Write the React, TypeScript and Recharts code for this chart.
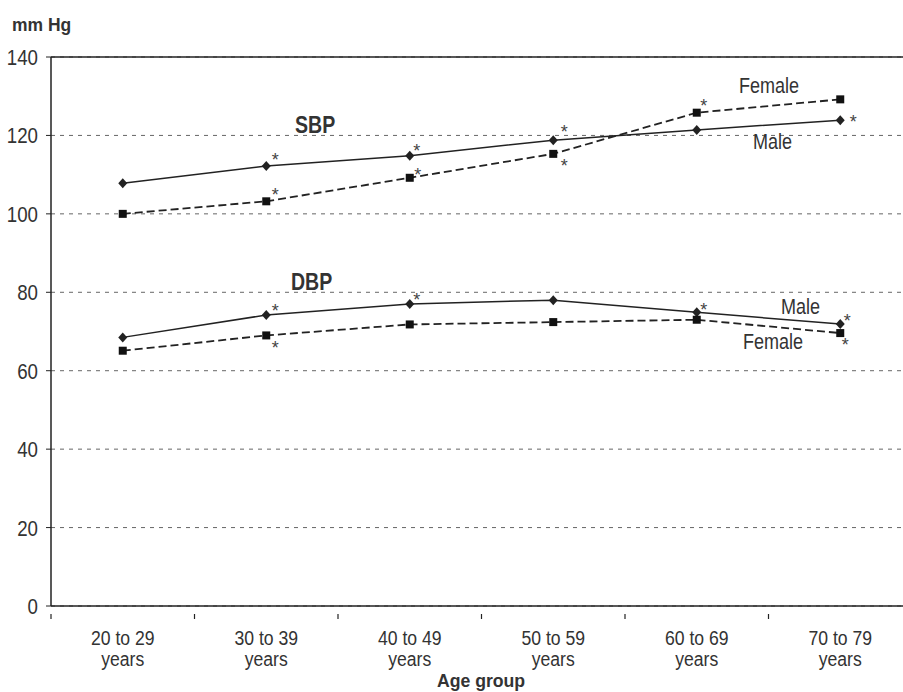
import React from 'react';
import { LineChart, Line, XAxis, YAxis, CartesianGrid, ReferenceLine } from 'recharts';

// age groups, each drawn as two lines on the axis
const ageGroups = ['20 to 29|years', '30 to 39|years', '40 to 49|years', '50 to 59|years', '60 to 69|years', '70 to 79|years'];

// mm Hg
const sbpMale = [107.8, 112.2, 114.8, 118.8, 121.4, 123.9];
const sbpFemale = [100.0, 103.2, 109.2, 115.3, 125.8, 129.2];
const dbpMale = [68.5, 74.2, 77.0, 78.0, 74.9, 71.9];
const dbpFemale = [65.1, 69.0, 71.8, 72.4, 73.0, 69.6];

// significance asterisks
const sbpMaleStar = [false, true, true, true, false, true];
const sbpFemaleStar = [false, true, true, true, true, false];
const dbpMaleStar = [false, true, true, false, true, true];
const dbpFemaleStar = [false, true, false, false, false, true];

const yTicks = [0, 20, 40, 60, 80, 100, 120, 140];

const rows = ageGroups.map((g, i) => ({
  group: g,
  sbpM: sbpMale[i],
  sbpF: sbpFemale[i],
  dbpM: dbpMale[i],
  dbpF: dbpFemale[i],
}));

const FONT = '"Liberation Sans", Arial, sans-serif';
const INK = '#222';
const TXT = '#333';
const HALF_STEP = 71.75;
const NARROW = 0.82;

// where each asterisk sits relative to its marker
const starPos: Record<string, [number, number][]> = {
  sbpM: [[0, 0], [9, -9], [7, -8], [11, -11], [0, 0], [13, -1]],
  sbpF: [[0, 0], [9, -9], [8, -6], [11, 9], [7, -10], [0, 0]],
  dbpM: [[0, 0], [9, -7], [7, -7], [0, 0], [7, -5], [7, -6]],
  dbpF: [[0, 0], [9, 10], [0, 0], [0, 0], [0, 0], [5, 9]],
};

// condensed look: squeeze the text horizontally around its anchor
const NText = ({ x, y, size = 22, sx = NARROW, bold = false, anchor = 'start', lines, lh = 20 }: any) => (
  <text
    transform={`translate(${x},${y}) scale(${sx},1)`}
    fontSize={size}
    fontWeight={bold ? 'bold' : 'normal'}
    fill={TXT}
    fontFamily={FONT}
    textAnchor={anchor}
  >
    {lines.map((l: string, i: number) => (
      <tspan key={i} x={0} y={i * lh}>{l}</tspan>
    ))}
  </text>
);

const Diamond = (props: any) => {
  const { cx, cy, index } = props;
  if (cx == null || cy == null) return <g key={`dm-${index}`} />;
  return (
    <polygon
      key={`dm-${index}`}
      points={`${cx},${cy - 5} ${cx + 4.5},${cy} ${cx},${cy + 5} ${cx - 4.5},${cy}`}
      fill={INK}
    />
  );
};

const Square = (props: any) => {
  const { cx, cy, index } = props;
  if (cx == null || cy == null) return <g key={`sq-${index}`} />;
  return <rect key={`sq-${index}`} x={cx - 4} y={cy - 4} width={8} height={8} fill="#111" />;
};

const starLabel = (key: string, flags: boolean[]) => (props: any) => {
  const { x, y, index } = props;
  if (!flags[index] || x == null || y == null) return null;
  const [dx, dy] = starPos[key][index];
  return (
    <text key={`st-${key}-${index}`} x={x + dx} y={y + dy + 9} textAnchor="middle" fontSize={18} fill="#444" fontFamily={FONT}>
      *
    </text>
  );
};

const AgeTick = (props: any) => {
  const { x, y, payload, index } = props;
  return (
    <g>
      <line x1={x - HALF_STEP} x2={x - HALF_STEP} y1={y} y2={y + 5} stroke={INK} strokeWidth={1.2} />
      {index === ageGroups.length - 1 && (
        <line x1={x + HALF_STEP} x2={x + HALF_STEP} y1={y} y2={y + 5} stroke={INK} strokeWidth={1.2} />
      )}
      <NText x={x} y={y + 31} size={21} sx={0.84} lh={21} anchor="middle" lines={String(payload.value).split('|')} />
    </g>
  );
};

const ValueTick = (props: any) => {
  const { x, y, payload } = props;
  return <NText x={x} y={y + 8} anchor="end" sx={0.85} lines={[String(payload.value)]} />;
};

export default function App() {
  return (
    <div style={{ position: 'absolute', left: 0, top: 0, width: 903, height: 692, overflow: 'hidden', background: '#fff', fontFamily: FONT }}>
      <LineChart width={912} height={692} data={rows} margin={{ top: 57, right: 0, bottom: 0, left: 0 }}>
        <CartesianGrid vertical={false} stroke="#666" strokeDasharray="4 5" />
        <ReferenceLine y={140} stroke={INK} strokeWidth={1.3} />
        <XAxis
          dataKey="group"
          height={86}
          interval={0}
          padding={{ left: HALF_STEP, right: HALF_STEP }}
          tickLine={false}
          axisLine={{ stroke: INK, strokeWidth: 1.5 }}
          tick={<AgeTick />}
        />
        <YAxis
          width={51}
          domain={[0, 140]}
          ticks={yTicks}
          interval={0}
          tickSize={5}
          tickMargin={8}
          axisLine={{ stroke: INK, strokeWidth: 1.5 }}
          tickLine={{ stroke: INK }}
          tick={<ValueTick />}
        />
        <Line dataKey="sbpM" stroke={INK} strokeWidth={1.5} dot={Diamond} activeDot={false} isAnimationActive={false} label={starLabel('sbpM', sbpMaleStar)} />
        <Line dataKey="sbpF" stroke={INK} strokeWidth={1.8} strokeDasharray="8 4" dot={Square} activeDot={false} isAnimationActive={false} label={starLabel('sbpF', sbpFemaleStar)} />
        <Line dataKey="dbpM" stroke={INK} strokeWidth={1.5} dot={Diamond} activeDot={false} isAnimationActive={false} label={starLabel('dbpM', dbpMaleStar)} />
        <Line dataKey="dbpF" stroke={INK} strokeWidth={1.8} strokeDasharray="8 4" dot={Square} activeDot={false} isAnimationActive={false} label={starLabel('dbpF', dbpFemaleStar)} />
      </LineChart>
      <svg width={903} height={692} style={{ position: 'absolute', left: 0, top: 0, pointerEvents: 'none' }}>
        <NText x={12} y={31} size={19} sx={0.92} bold lines={['mm Hg']} />
        <NText x={295} y={133} size={23} sx={0.85} bold lines={['SBP']} />
        <NText x={291} y={290} size={23} sx={0.85} bold lines={['DBP']} />
        <NText x={739} y={93} lines={['Female']} />
        <NText x={753} y={149} lines={['Male']} />
        <NText x={781} y={314} lines={['Male']} />
        <NText x={743} y={349} lines={['Female']} />
        <NText x={481} y={687} size={19} sx={0.93} bold anchor="middle" lines={['Age group']} />
      </svg>
    </div>
  );
}
